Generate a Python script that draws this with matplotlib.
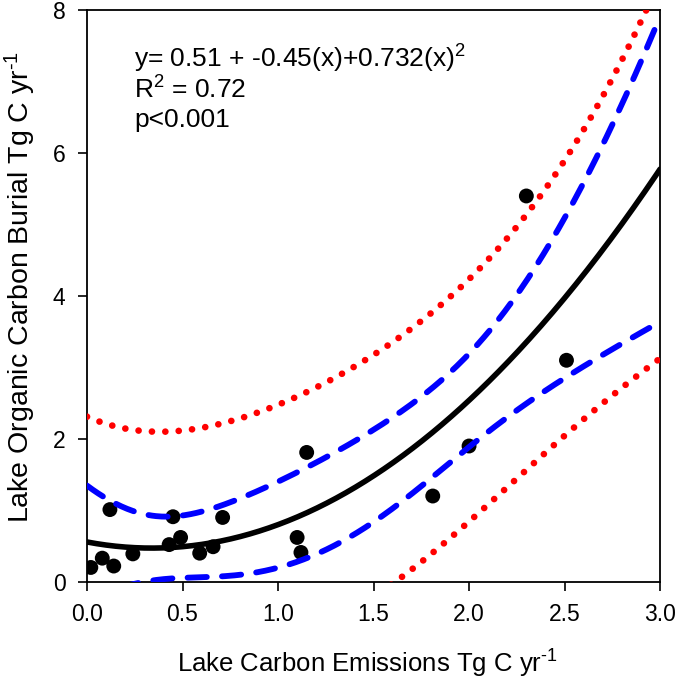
import numpy as np
import matplotlib
matplotlib.use("Agg")
import matplotlib.pyplot as plt

plt.rcParams['font.family'] = ['Liberation Sans', 'DejaVu Sans']
plt.rcParams['mathtext.fontset'] = 'custom'
plt.rcParams['mathtext.rm'] = 'Liberation Sans'
plt.rcParams['mathtext.it'] = 'Liberation Sans'
plt.rcParams['mathtext.default'] = 'regular'

# Data
emissions = [0.02, 0.08, 0.14, 0.12, 0.24, 0.45, 0.43, 0.49, 0.59, 0.66, 0.71,
             1.10, 1.12, 1.15, 1.81, 2.00, 2.30, 2.51]
burial = [0.20, 0.33, 0.22, 1.01, 0.39, 0.91, 0.52, 0.62, 0.40, 0.49, 0.90,
          0.62, 0.41, 1.81, 1.20, 1.90, 5.40, 3.10]

eq_text = "y= 0.51 + -0.45(x)+0.732(x)$^2$"
r2_text = "R$^2$ = 0.72"
p_text = "p<0.001"
x_ticks = [0.0, 0.5, 1.0, 1.5, 2.0, 2.5, 3.0]
y_ticks = [0, 2, 4, 6, 8]

x = np.array(emissions)
y = np.array(burial)
n = len(x)
X = np.column_stack([np.ones(n), x, x**2])
beta, *_ = np.linalg.lstsq(X, y, rcond=None)
resid = y - X @ beta
dof = n - 3
s2 = resid @ resid / dof
XtX_inv = np.linalg.inv(X.T @ X)
t_val = 2.131  # t(0.975, 15)

xs = np.linspace(0, 3.0, 300)
Xs = np.column_stack([np.ones_like(xs), xs, xs**2])
yfit = Xs @ beta
lev = np.einsum('ij,jk,ik->i', Xs, XtX_inv, Xs)
ci = t_val * np.sqrt(s2 * lev)
pi = t_val * np.sqrt(s2 * (1 + lev))

fig = plt.figure(figsize=(6.77, 6.82), dpi=100)
ax = fig.add_axes([0.1285, 0.147, 0.8465, 0.838])

ax.scatter(x, y, s=115, color='black', zorder=2, edgecolors='none')
ax.plot(xs, yfit, color='black', lw=4, zorder=3, solid_capstyle='round')
for sgn in (1, -1):
    ax.plot(xs, yfit + sgn * ci, color='#0000ff', lw=4.2, linestyle=(0, (3.3, 2.6)),
            dash_capstyle='round', zorder=3)
    ax.plot(xs, yfit + sgn * pi, color='#ff0000', lw=4.8, linestyle=(0, (0.01, 2.0)),
            dash_capstyle='round', zorder=3)

ax.set_xlim(0, 3.0)
ax.set_ylim(0, 8)
ax.set_xticks(x_ticks)
ax.set_xticklabels([f"{v:.1f}" for v in x_ticks])
ax.set_yticks(y_ticks)
ax.tick_params(direction='out', length=6.5, width=1.2, labelsize=16.5, pad=9)
for sp in ax.spines.values():
    sp.set_linewidth(1.3)

ax.set_xlabel("Lake Carbon Emissions Tg C yr$^{\\text{-1}}$", fontsize=18.5)
ax.xaxis.set_label_coords(0.49, -0.115)
ax.set_ylabel("Lake Organic Carbon Burial Tg C yr$^{\\text{-1}}$", fontsize=20.5)
ax.yaxis.set_label_coords(-0.085, 0.515)

ax.text(0.082, 0.900, eq_text, transform=ax.transAxes, fontsize=19, va='baseline')
ax.text(0.082, 0.846, r2_text, transform=ax.transAxes, fontsize=19, va='baseline')
ax.text(0.082, 0.795, p_text, transform=ax.transAxes, fontsize=19, va='baseline')

fig.savefig("out.png", dpi=100)
